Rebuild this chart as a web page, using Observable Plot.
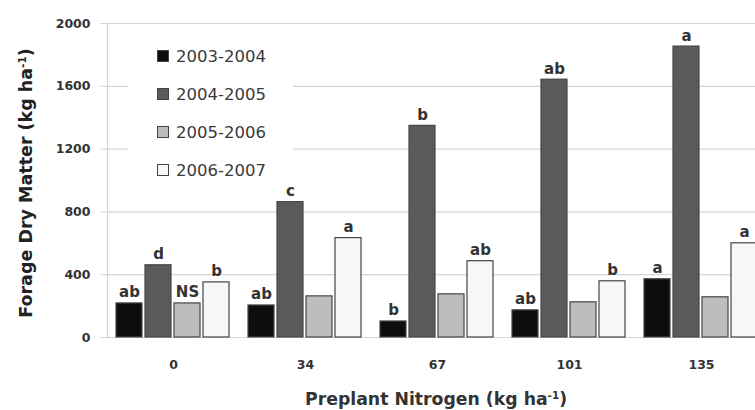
<!DOCTYPE html>
<html>
<head>
<meta charset="utf-8">
<script src="https://cdn.jsdelivr.net/npm/d3@7"></script>
<script src="https://cdn.jsdelivr.net/npm/@observablehq/plot@0.6"></script>
<style>
  html, body { margin: 0; padding: 0; background: #fff; overflow: hidden; }
  #wrap { position: relative; width: 755px; height: 410px; overflow: hidden; font-family: "DejaVu Sans", sans-serif; color: #333; }
  #wrap svg { position: absolute; left: 0; top: 0; }
  .legend { position: absolute; left: 128px; top: 32px; width: 165px; height: 150px; background: #fff; }
  .legend .row { position: absolute; left: 29px; height: 20px; display: flex; align-items: center; font-size: 16.5px; color: #3a3a3a; }
  .legend .sw { width: 10px; height: 10px; border: 1px solid #444; margin-right: 7px; }
  .ytitle { position: absolute; left: 26px; top: 183px; transform: translate(-50%, -50%) rotate(-90deg); white-space: nowrap; font-weight: bold; font-size: 17.5px; color: #222; }
  .xtitle { position: absolute; left: 436px; top: 399px; transform: translate(-50%, -50%); white-space: nowrap; font-weight: bold; font-size: 17.3px; color: #333; }
  sup { font-size: 0.6em; vertical-align: 0.6em; line-height: 0; }
</style>
</head>
<body>
<div id="wrap"></div>
<script>
// Preplant nitrogen rates (kg ha-1) and growing seasons
const nitrogen = ["0", "34", "67", "101", "135"];
const seasons = ["2003-2004", "2004-2005", "2005-2006", "2006-2007"];

// Forage dry matter (kg ha-1) for each season, by nitrogen rate
const dm0304 = [217, 204, 102, 173, 371];
const dm0405 = [460, 862, 1348, 1642, 1853];
const dm0506 = [217, 262, 275, 224, 256];
const dm0607 = [351, 633, 486, 358, 600];

// Mean separation letters above each bar
const sep0304 = ["ab", "ab", "b", "ab", "a"];
const sep0405 = ["d", "c", "b", "ab", "a"];
const sep0506 = ["NS", "", "", "", ""];
const sep0607 = ["b", "a", "ab", "b", "a"];

const yTicks = [0, 400, 800, 1200, 1600, 2000];
const seasonFills = ["#0e0e0e", "#5a5a5a", "#bdbdbd", "#f7f7f7"];

const values = [dm0304, dm0405, dm0506, dm0607];
const letters = [sep0304, sep0405, sep0506, sep0607];
const rows = [];
nitrogen.forEach((n, i) => {
  seasons.forEach((s, j) => {
    rows.push({n, season: s, dm: values[j][i], sep: letters[j][i]});
  });
});

const chart = Plot.plot({
  width: 755,
  height: 410,
  marginLeft: 107,
  marginRight: -12,
  marginTop: 23,
  marginBottom: 73,
  style: {fontFamily: "DejaVu Sans, sans-serif", background: "transparent"},
  fx: {domain: nitrogen, padding: 0, label: null},
  x: {domain: seasons, paddingInner: 0.1, paddingOuter: 0.3, axis: null},
  y: {domain: [0, 2000], label: null},
  color: {domain: seasons, range: seasonFills},
  marks: [
    Plot.gridY(yTicks, {stroke: "#d6d6d6", strokeOpacity: 1, strokeWidth: 1.2}),
    Plot.axisY(yTicks, {
      tickSize: 7, tickPadding: 10, stroke: "#d6d6d6", strokeOpacity: 1,
      tickFormat: d3.format("d"),
      fontSize: 12.5, fontWeight: "bold", fill: "#333", label: null
    }),
    Plot.barY(rows, {fx: "n", x: "season", y: "dm", fill: "season", stroke: "#454545", strokeWidth: 1.2}),
    Plot.text(rows, {
      fx: "n", x: "season", y: "dm", text: "sep",
      lineAnchor: "bottom", dy: -6,
      fontSize: 15, fontWeight: "bold", fill: "#333"
    }),
    Plot.axisFx({anchor: "bottom", tickSize: 0, tickPadding: 23, fontSize: 12.5, fontWeight: "bold", fill: "#333", label: null})
  ]
});

const wrap = document.getElementById("wrap");
wrap.appendChild(chart);

// Vertical y-axis line along the left edge of the plot area
const yr = chart.scale("y").range;
d3.select(chart).append("line")
  .attr("x1", 107.5).attr("x2", 107.5)
  .attr("y1", yr[1]).attr("y2", yr[0])
  .attr("stroke", "#d6d6d6").attr("stroke-width", 1.2)
  .lower();

// Legend box
const legend = d3.select(wrap).append("div").attr("class", "legend");
seasons.forEach((s, j) => {
  const row = legend.append("div").attr("class", "row").style("top", `${14 + j * 38}px`);
  row.append("div").attr("class", "sw").style("background", seasonFills[j]);
  row.append("span").text(s);
});

// Axis titles
d3.select(wrap).append("div").attr("class", "ytitle").html("Forage Dry Matter (kg ha<sup>-1</sup>)");
d3.select(wrap).append("div").attr("class", "xtitle").html("Preplant Nitrogen (kg ha<sup>-1</sup>)");
</script>
</body>
</html>
